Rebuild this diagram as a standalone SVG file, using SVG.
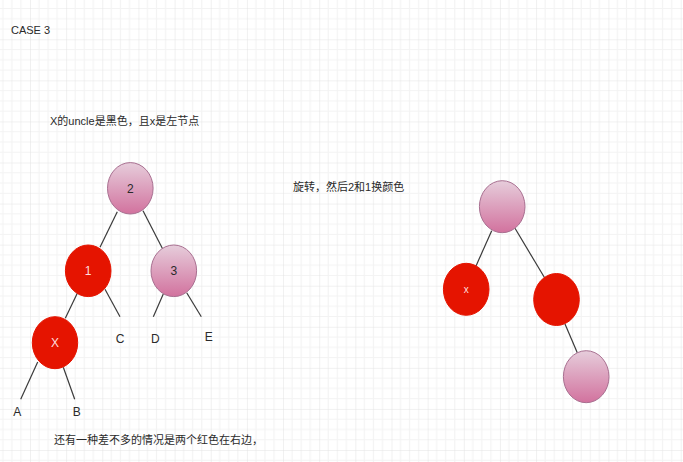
<svg xmlns="http://www.w3.org/2000/svg" width="683" height="462" viewBox="0 0 683 462">
  <defs>
    <pattern id="grid" patternUnits="userSpaceOnUse" x="30" y="39.3" width="36.15" height="41.07">
      <rect width="36.15" height="41.07" fill="#ffffff"/>
      <path d="M9.04 0V41.07M18.08 0V41.07M27.11 0V41.07M0 10.27H36.15M0 20.54H36.15M0 30.8H36.15" stroke="#f3f3f3" stroke-width="1" fill="none"/>
      <path d="M0 0V41.07M0 0H36.15" stroke="#e3e3e3" stroke-width="1" fill="none"/>
    </pattern>
    <linearGradient id="pink" x1="0" y1="0" x2="0" y2="1">
      <stop offset="0" stop-color="#e6cddb"/>
      <stop offset="1" stop-color="#d2729e"/>
    </linearGradient>
  </defs>
  <style>
    .pink { fill: url(#pink); stroke: #a86f90; stroke-width: 1; }
    .red { fill: #e51400; stroke: #e51400; stroke-width: 1; }
    .edge { stroke: #3a3a3a; stroke-width: 1.2; fill: none; }
    text { font-family: "Liberation Sans", "Noto Sans CJK SC", sans-serif; font-size: 11px; fill: #2a2a2a; }
    .nl { font-size: 12px; text-anchor: middle; }
    .wl { fill: #ffdede; }
    .lbl { font-size: 12px; text-anchor: middle; }
  </style>
  <rect width="683" height="462" fill="url(#grid)"/>

  <text x="11" y="34">CASE 3</text>
  <text x="50" y="125">X的uncle是黑色，且x是左节点</text>
  <text x="293" y="191">旋转，然后2和1换颜色</text>
  <text x="54" y="444">还有一种差不多的情况是两个红色在右边，</text>

  <g id="connectors">
    <line class="edge" x1="117.3" y1="211.7" x2="100" y2="247.3"/>
    <line class="edge" x1="143" y1="210.7" x2="162.3" y2="248.3"/>
    <line class="edge" x1="77.3" y1="293.3" x2="65.3" y2="318.3"/>
    <line class="edge" x1="105" y1="289.3" x2="120" y2="316.7"/>
    <line class="edge" x1="163.3" y1="294" x2="153.3" y2="316.7"/>
    <line class="edge" x1="186.7" y1="292.7" x2="201.3" y2="316.7"/>
    <line class="edge" x1="37.7" y1="362" x2="20.7" y2="399.3"/>
    <line class="edge" x1="63.3" y1="367.3" x2="74.7" y2="399.3"/>
    <line class="edge" x1="491.7" y1="230.7" x2="476" y2="266"/>
    <line class="edge" x1="515" y1="228.3" x2="544.3" y2="277.3"/>
    <line class="edge" x1="565" y1="324" x2="577.3" y2="352.7"/>
  </g>

  <g id="node-2">
    <ellipse class="pink" cx="130.3" cy="188.3" rx="22.8" ry="25.7"/>
    <text class="nl" x="130.3" y="192.5">2</text>
  </g>
  <g id="node-1">
    <ellipse class="red" cx="88.2" cy="270.8" rx="22.8" ry="25.8"/>
    <text class="nl wl" x="88.2" y="275">1</text>
  </g>
  <g id="node-3">
    <ellipse class="pink" cx="173.8" cy="270.8" rx="22.8" ry="25.8"/>
    <text class="nl" x="173.8" y="275">3</text>
  </g>
  <g id="node-x">
    <ellipse class="red" cx="55" cy="342.7" rx="22.7" ry="26"/>
    <text class="nl wl" x="55" y="347">X</text>
  </g>

  <g id="label-c"><text class="lbl" x="120" y="343">C</text></g>
  <g id="label-d"><text class="lbl" x="155.3" y="343">D</text></g>
  <g id="label-e"><text class="lbl" x="208.7" y="340.5">E</text></g>
  <g id="label-a"><text class="lbl" x="17.3" y="416">A</text></g>
  <g id="label-b"><text class="lbl" x="76.7" y="416">B</text></g>

  <g id="r-top">
    <ellipse class="pink" cx="502.2" cy="206.7" rx="22.8" ry="26"/>
  </g>
  <g id="r-x">
    <ellipse class="red" cx="466.2" cy="289.3" rx="22.8" ry="26"/>
    <text class="wl" x="466.2" y="293" style="font-size:10px;text-anchor:middle">x</text>
  </g>
  <g id="r-right">
    <ellipse class="red" cx="556.5" cy="299.5" rx="22.8" ry="26"/>
  </g>
  <g id="r-bottom">
    <ellipse class="pink" cx="586.2" cy="376.7" rx="22.8" ry="26"/>
  </g>
</svg>
